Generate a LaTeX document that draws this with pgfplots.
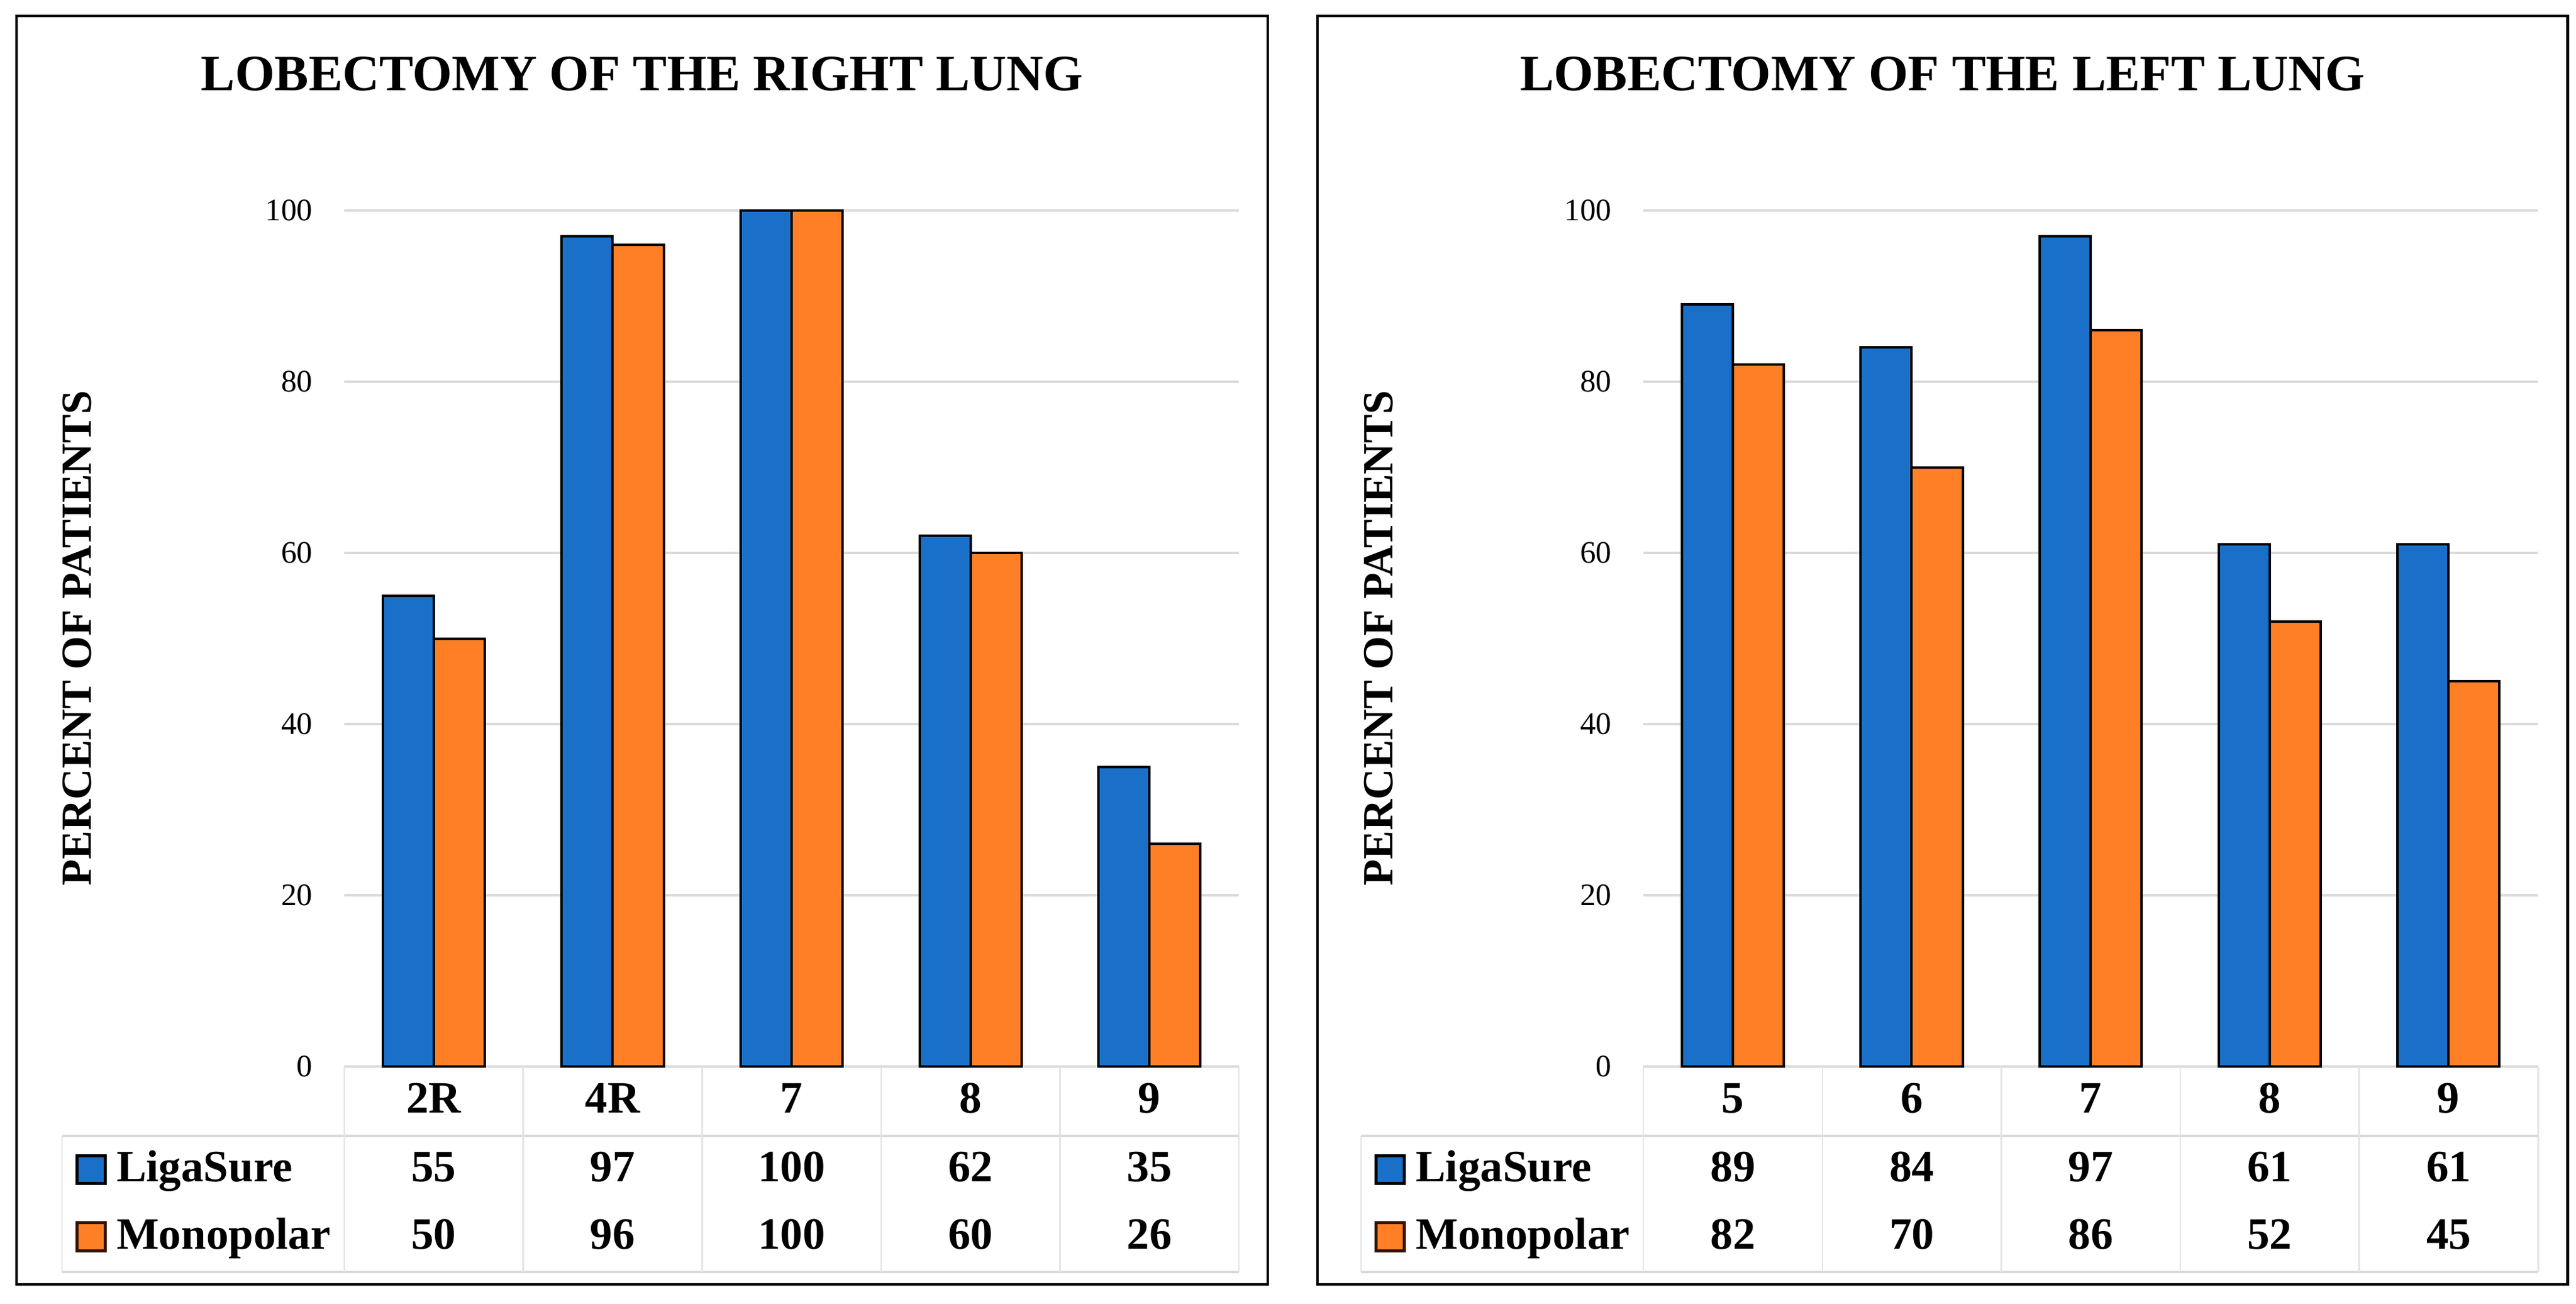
\documentclass[border=0pt]{standalone}
\usepackage{fontspec}
\setmainfont{Liberation Serif}
\usepackage{pgfplots}
\pgfplotsset{compat=1.18}
\definecolor{lsblue}{RGB}{26,112,200}
\definecolor{mporange}{RGB}{255,127,39}
\definecolor{gridgray}{RGB}{217,217,217}
\definecolor{darkbrown}{RGB}{50,20,5}
\newcommand{\fs}[1]{\fontsize{#1}{#1}\selectfont}

\pgfplotsset{lobe/.style={
  scale only axis, width=145.8pt, height=139.5pt, anchor=south west,
  xmin=-0.5, xmax=4.5, ymin=0, ymax=100,
  ybar, bar width=0.285,
  ytick={0,20,40,60,80,100},
  ymajorgrids, grid style={gridgray, line width=0.35pt},
  axis line style={draw=none},
  major tick length=0pt,
  xtick={0,1,2,3,4},
  /pgf/number format/assume math mode=true,
  yticklabel style={font=\fs{5.1pt}, inner sep=0pt, xshift=-5pt, anchor=east},
  xticklabel style={font=\bfseries\fs{7.3pt}, anchor=base, inner sep=0pt, yshift=-7.5pt},
  clip=false,
}}

\newcommand{\drawtable}[3]{%
 \begin{scope}[xshift=#1*0.1pt]
  \draw[gridgray, line width=0.4pt] (101,1851) -- (2019,1851);
  \draw[gridgray, line width=0.4pt] (101,2073) -- (2019,2073);
  \draw[gridgray!70, line width=0.25pt] (101,1851) -- (101,2073);
  \foreach \k in {0,...,5} \draw[gridgray!70, line width=0.25pt] ({561+291.6*\k},1738) -- ({561+291.6*\k},2073);
  \draw[fill=lsblue, draw=black, line width=0.5pt] (125,1883) rectangle (171,1928);
  \draw[fill=mporange, draw=darkbrown, line width=0.5pt] (125,1992) rectangle (171,2038);
  \node[anchor=base west, inner sep=0pt, font=\bfseries\fs{7.3pt}] at (188,1925) {LigaSure};
  \node[anchor=base west, inner sep=0pt, font=\bfseries\fs{7.3pt}] at (188,2035) {Monopolar};
  \foreach \v [count=\k from 0] in {#2} \node[anchor=base, inner sep=0pt, font=\bfseries\fs{7.3pt}] at ({706.8+291.6*\k},1925) {\v};
  \foreach \v [count=\k from 0] in {#3} \node[anchor=base, inner sep=0pt, font=\bfseries\fs{7.3pt}] at ({706.8+291.6*\k},2035) {\v};
 \end{scope}}

\begin{document}
\begin{tikzpicture}
\useasboundingbox (0,0) rectangle (419.8pt,212.4pt);

\begin{axis}[lobe, at={(56.1pt,38.6pt)}, xticklabels={2R,4R,7,8,9}]
\addplot[fill=lsblue, draw=black, line width=0.4pt, bar shift=-0.1425] coordinates {(0,55) (1,97) (2,100) (3,62) (4,35)};
\addplot[fill=mporange, draw=black, line width=0.4pt, bar shift=0.1425] coordinates {(0,50) (1,96) (2,100) (3,60) (4,26)};
\end{axis}

\begin{axis}[lobe, at={(267.8pt,38.6pt)}, xticklabels={5,6,7,8,9}]
\addplot[fill=lsblue, draw=black, line width=0.4pt, bar shift=-0.1425] coordinates {(0,89) (1,84) (2,97) (3,61) (4,61)};
\addplot[fill=mporange, draw=black, line width=0.4pt, bar shift=0.1425] coordinates {(0,82) (1,70) (2,86) (3,52) (4,45)};
\end{axis}

\begin{scope}[x=0.1pt, y=-0.1pt, yshift=212.4pt]
  \draw[line width=0.45pt] (27,26) rectangle (2066,2093);
  \draw[line width=0.45pt] (2147,26) rectangle (4184,2093);
  \node[anchor=base, inner sep=0pt, font=\bfseries\fs{8.3pt}] at (1046.5,147) {LOBECTOMY OF THE RIGHT LUNG};
  \node[anchor=base, inner sep=0pt, font=\bfseries\fs{8.3pt}] at (3165.5,147) {LOBECTOMY OF THE LEFT LUNG};
  \node[rotate=90, inner sep=0pt, font=\bfseries\fs{7pt}] at (126,1040) {PERCENT OF PATIENTS};
  \node[rotate=90, inner sep=0pt, font=\bfseries\fs{7pt}] at (2247,1040) {PERCENT OF PATIENTS};
  \drawtable{0}{55,97,100,62,35}{50,96,100,60,26}
  \drawtable{2117}{89,84,97,61,61}{82,70,86,52,45}
\end{scope}
\end{tikzpicture}
\end{document}
